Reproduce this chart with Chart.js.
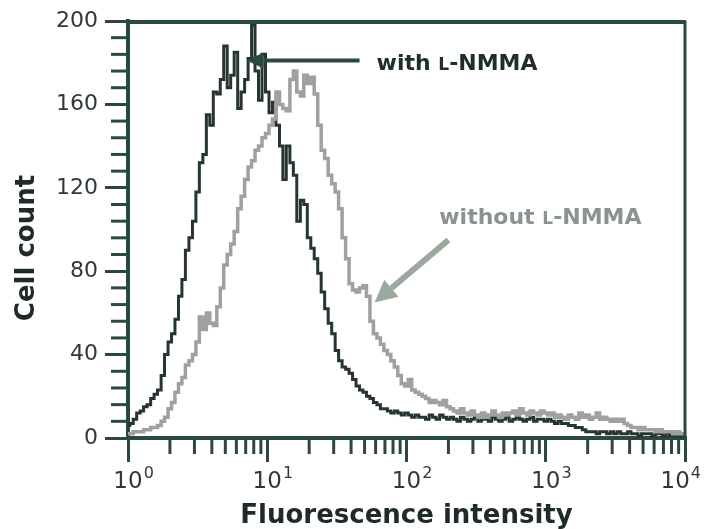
<!DOCTYPE html>
<html>
<head>
<meta charset="utf-8">
<script src="https://cdn.jsdelivr.net/npm/chart.js@4/dist/chart.umd.min.js"></script>
<style>
  body { margin: 0; background: #fff; }
  canvas { display: block; }
</style>
</head>
<body>
<canvas id="histChart" width="704" height="529"></canvas>
<script>
// fluorescence channels (log spaced, 40 per decade)
const channels = [
  1, 1.06, 1.12, 1.19, 1.26, 1.33, 1.41, 1.5, 1.58, 1.68, 1.78, 1.88, 2, 2.11, 2.24, 2.37, 2.51, 2.66, 2.82, 2.99,
  3.16, 3.35, 3.55, 3.76, 3.98, 4.22, 4.47, 4.73, 5.01, 5.31, 5.62, 5.96, 6.31, 6.68, 7.08, 7.5, 7.94, 8.41, 8.91, 9.44,
  10, 10.6, 11.2, 11.9, 12.6, 13.3, 14.1, 15, 15.8, 16.8, 17.8, 18.8, 20, 21.1, 22.4, 23.7, 25.1, 26.6, 28.2, 29.9,
  31.6, 33.5, 35.5, 37.6, 39.8, 42.2, 44.7, 47.3, 50.1, 53.1, 56.2, 59.6, 63.1, 66.8, 70.8, 75, 79.4, 84.1, 89.1, 94.4,
  100, 106, 112, 119, 126, 133, 141, 150, 158, 168, 178, 188, 200, 211, 224, 237, 251, 266, 282, 299,
  316, 335, 355, 376, 398, 422, 447, 473, 501, 531, 562, 596, 631, 668, 708, 750, 794, 841, 891, 944,
  1000, 1060, 1120, 1190, 1260, 1330, 1410, 1500, 1580, 1680, 1780, 1880, 2000, 2110, 2240, 2370, 2510, 2660, 2820, 2990,
  3160, 3350, 3550, 3760, 3980, 4220, 4470, 4730, 5010, 5310, 5620, 5960, 6310, 6680, 7080, 7500, 7940, 8410, 8910, 9440,
  10000
];

// cell counts with L-NMMA (dark trace)
const withLNMMA = [
  6, 7, 9, 12, 13, 15, 16, 19, 21, 23, 30, 40, 46, 50, 57, 68, 76, 90, 96, 104,
  118, 132, 136, 155, 150, 166, 165, 172, 188, 168, 174, 185, 158, 166, 172, 182, 198, 176, 162, 184,
  166, 156, 161, 150, 140, 124, 140, 132, 126, 104, 114, 112, 96, 91, 86, 79, 70, 62, 55, 50,
  42, 37, 34, 33, 31, 28, 25, 23, 22, 20, 19, 17, 16, 14, 14, 13, 12, 13, 12, 11,
  12, 11, 10, 11, 10, 10, 9, 11, 10, 9, 11, 10, 9, 10, 9, 8, 10, 9, 8, 9,
  10, 8, 9, 9, 8, 10, 9, 8, 9, 10, 8, 9, 10, 9, 8, 9, 10, 8, 9, 9,
  8, 9, 8, 7, 8, 7, 7, 6, 6, 5, 5, 4, 3, 3, 3, 2, 3, 3, 2, 3,
  2, 3, 2, 2, 3, 2, 2, 1, 2, 2, 2, 1, 2, 2, 1, 2, 1, 2, 1, 1,
  1
];

// cell counts without L-NMMA (grey trace)
const withoutLNMMA = [
  2, 2, 3, 3, 3, 4, 4, 5, 5, 6, 8, 10, 14, 17, 22, 26, 29, 35, 37, 40,
  46, 58, 52, 60, 55, 54, 63, 72, 83, 88, 93, 99, 110, 116, 124, 130, 133, 138, 140, 144,
  146, 150, 153, 166, 160, 158, 157, 172, 176, 166, 164, 174, 170, 173, 165, 150, 138, 134, 126, 122,
  118, 110, 96, 86, 74, 71, 70, 72, 73, 68, 56, 50, 48, 45, 42, 40, 37, 34, 30, 26,
  25, 28, 23, 22, 21, 20, 19, 17, 18, 17, 16, 18, 15, 14, 13, 12, 14, 12, 11, 13,
  11, 10, 12, 10, 11, 13, 11, 10, 12, 11, 12, 13, 11, 14, 12, 11, 13, 12, 11, 13,
  12, 11, 12, 10, 11, 10, 9, 11, 10, 9, 12, 10, 11, 9, 10, 12, 9, 10, 9, 8,
  9, 8, 9, 7, 6, 5, 5, 4, 5, 4, 4, 4, 3, 4, 3, 3, 3, 2, 3, 2,
  2
];

const decades = [1, 10, 100, 1000, 10000];
const decadeExponents = ['0', '1', '2', '3', '4'];
const yTicks = [0, 40, 80, 120, 160, 200];

const axisColor = '#2b4a3b';
const textColor = '#2f3a35';

function toPoints(ys) {
  return ys.map((v, i) => ({ x: channels[i], y: v }));
}

function line(ctx, x1, y1, x2, y2) {
  ctx.beginPath();
  ctx.moveTo(x1, y1);
  ctx.lineTo(x2, y2);
  ctx.stroke();
}

function arrow(ctx, x1, y1, x2, y2, head, halfW) {
  const ang = Math.atan2(y2 - y1, x2 - x1);
  const bx = x2 - head * Math.cos(ang), by = y2 - head * Math.sin(ang);
  line(ctx, x1, y1, bx, by);
  ctx.beginPath();
  ctx.moveTo(x2, y2);
  ctx.lineTo(bx + halfW * Math.sin(ang), by - halfW * Math.cos(ang));
  ctx.lineTo(bx - halfW * Math.sin(ang), by + halfW * Math.cos(ang));
  ctx.closePath();
  ctx.fill();
}

// label with a small-caps "L"
function drawLabel(ctx, x, y, pre, color) {
  const big = 'bold 22px "DejaVu Sans"', small = 'bold 17px "DejaVu Sans"';
  ctx.fillStyle = color;
  ctx.textBaseline = 'alphabetic';
  ctx.textAlign = 'left';
  ctx.font = big;
  ctx.fillText(pre, x, y);
  x += ctx.measureText(pre).width;
  ctx.font = small;
  ctx.fillText('L', x, y);
  x += ctx.measureText('L').width;
  ctx.font = big;
  ctx.fillText('-NMMA', x, y);
}

const decor = {
  id: 'decor',
  afterDraw(chart) {
    const { ctx, chartArea: a, scales: { x, y } } = chart;
    ctx.save();
    ctx.strokeStyle = axisColor;
    ctx.lineCap = 'butt';
    // frame top + right
    ctx.lineWidth = 4;
    line(ctx, a.left, a.top + 1, a.right + 1, a.top + 1);
    ctx.lineWidth = 3;
    line(ctx, a.right, a.top, a.right, a.bottom);
    // minor ticks
    ctx.lineWidth = 3;
    for (let d = 0; d < decades.length - 1; d++) {
      for (let m = 2; m <= 9; m++) {
        const px = x.getPixelForValue(decades[d] * m);
        line(ctx, px, a.bottom, px, a.bottom + 16);
      }
    }
    for (let v = 8; v < 200; v += 8) {
      if (v % 40 === 0) continue;
      const py = y.getPixelForValue(v);
      line(ctx, a.left - 17, py, a.left, py);
    }

    // x tick labels 10^n with superscript
    ctx.fillStyle = textColor;
    ctx.textBaseline = 'alphabetic';
    ctx.textAlign = 'left';
    decades.forEach((v, i) => {
      ctx.font = '23px "DejaVu Sans"';
      const baseW = ctx.measureText('10').width;
      ctx.font = '16px "DejaVu Sans"';
      const supW = ctx.measureText(decadeExponents[i]).width;
      let left = x.getPixelForValue(v) - baseW / 2;
      left = Math.min(left, chart.width - 4 - baseW - supW);
      const base = a.bottom + 50;
      ctx.font = '23px "DejaVu Sans"';
      ctx.fillText('10', left, base);
      ctx.font = '16px "DejaVu Sans"';
      ctx.fillText(decadeExponents[i], left + baseW + 1, base - 10);
    });

    // y title
    ctx.save();
    ctx.translate(27, 248);
    ctx.rotate(-Math.PI / 2);
    ctx.font = 'bold 26px "DejaVu Sans"';
    ctx.fillStyle = '#1f2b26';
    ctx.textAlign = 'center';
    ctx.textBaseline = 'middle';
    ctx.fillText('Cell count', 0, 0);
    ctx.restore();

    // annotation: with L-NMMA
    ctx.strokeStyle = '#2c4a3c';
    ctx.fillStyle = '#2c4a3c';
    ctx.lineWidth = 4;
    arrow(ctx, x.getPixelForValue(46), y.getPixelForValue(181),
      x.getPixelForValue(7.1), y.getPixelForValue(181), 17, 8);
    drawLabel(ctx, x.getPixelForValue(61), y.getPixelForValue(181) + 9, 'with ', '#1f2f28');

    // annotation: without L-NMMA
    ctx.strokeStyle = '#9aa89e';
    ctx.fillStyle = '#9aa89e';
    ctx.lineWidth = 6;
    arrow(ctx, x.getPixelForValue(200), y.getPixelForValue(95),
      x.getPixelForValue(59), y.getPixelForValue(65), 22, 11);
    drawLabel(ctx, x.getPixelForValue(172), y.getPixelForValue(107) + 9, 'without ', '#8a948e');
    ctx.restore();
  }
};

new Chart(document.getElementById('histChart'), {
  type: 'line',
  data: {
    datasets: [
      {
        label: 'without L-NMMA',
        data: toPoints(withoutLNMMA),
        borderColor: '#a0a0a0',
        borderWidth: 3.5,
        pointRadius: 0,
        stepped: 'middle',
        fill: false
      },
      {
        label: 'with L-NMMA',
        data: toPoints(withLNMMA),
        borderColor: '#26362e',
        borderWidth: 3,
        pointRadius: 0,
        stepped: 'middle',
        fill: false
      }
    ]
  },
  options: {
    responsive: false,
    animation: false,
    layout: { padding: { top: 21, right: 19, left: 0, bottom: 0 } },
    plugins: {
      legend: { display: false },
      tooltip: { enabled: false }
    },
    scales: {
      x: {
        type: 'logarithmic',
        min: 1,
        max: 10000,
        afterBuildTicks: s => { s.ticks = decades.map(v => ({ value: v })); },
        afterFit: s => { s.height = 91; s.paddingLeft = 0; s.paddingRight = 0; },
        ticks: {
          autoSkip: false,
          maxRotation: 0,
          color: 'rgba(0,0,0,0)',
          font: { family: 'DejaVu Sans', size: 22 },
          callback: () => ''
        },
        grid: {
          drawOnChartArea: false,
          tickLength: 24,
          lineWidth: 3,
          color: axisColor
        },
        border: { display: true, width: 4, color: axisColor },
        title: {
          display: true,
          text: 'Fluorescence intensity',
          color: '#1f2b26',
          font: { family: 'DejaVu Sans', size: 26, weight: 'bold', lineHeight: 1 },
          padding: { top: 0, bottom: 0 }
        }
      },
      y: {
        min: 0,
        max: 200,
        afterBuildTicks: s => { s.ticks = yTicks.map(v => ({ value: v })); },
        afterFit: s => { s.width = 128; s.paddingTop = 0; s.paddingBottom = 0; },
        ticks: {
          padding: 7,
          color: textColor,
          font: { family: 'DejaVu Sans', size: 22 }
        },
        grid: {
          drawOnChartArea: false,
          tickLength: 23,
          lineWidth: 3,
          color: axisColor
        },
        border: { display: true, width: 4, color: axisColor }
      }
    }
  },
  plugins: [decor]
});
</script>
</body>
</html>
